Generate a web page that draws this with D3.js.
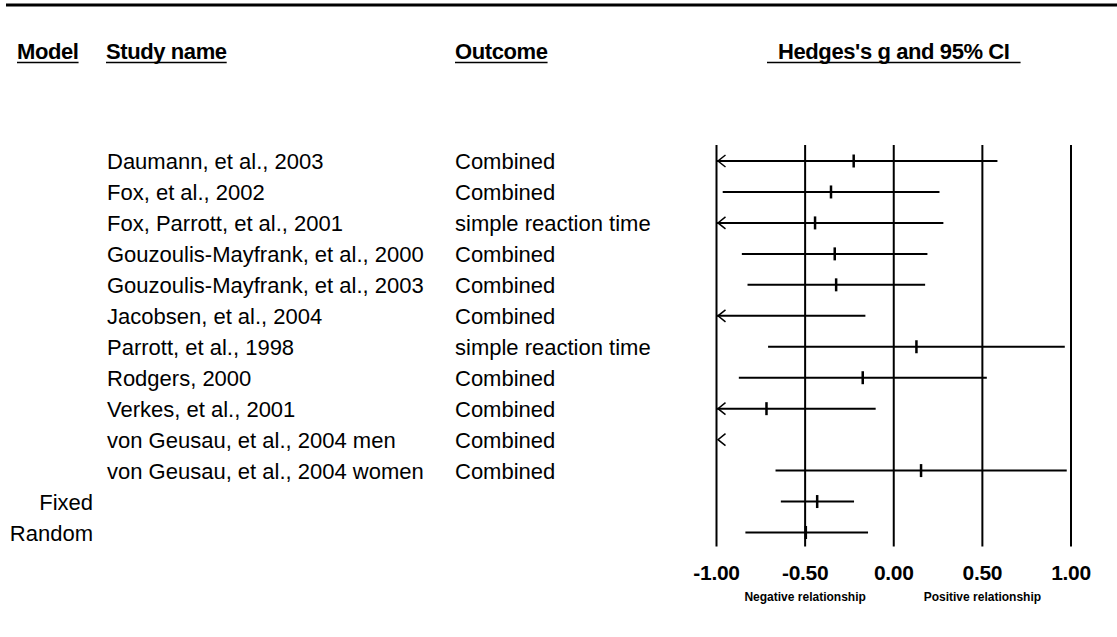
<!DOCTYPE html>
<html lang="en">

<head>
    <meta charset="UTF-8">
    <title>Forest plot</title>
    <script src="https://d3js.org/d3.v7.min.js"></script>
    <style>
        body,
        html {
            margin: 0px;
            background: white;
        }

        text {
            font-family: "Liberation Sans", Arial, sans-serif;
            fill: black;
        }
    </style>
</head>

<body>
    <div id="chart"></div>

    <script>
        // study rows
        var studies = [
            "Daumann, et al., 2003",
            "Fox, et al., 2002",
            "Fox, Parrott, et al., 2001",
            "Gouzoulis-Mayfrank, et al., 2000",
            "Gouzoulis-Mayfrank, et al., 2003",
            "Jacobsen, et al., 2004",
            "Parrott, et al., 1998",
            "Rodgers, 2000",
            "Verkes, et al., 2001",
            "von Geusau, et al., 2004 men",
            "von Geusau, et al., 2004 women"
        ];
        var outcomes = [
            "Combined", "Combined", "simple reaction time", "Combined", "Combined", "Combined",
            "simple reaction time", "Combined", "Combined", "Combined", "Combined"
        ];
        var hedgesG = [-0.226, -0.354, -0.444, -0.333, -0.325, -1.12, 0.128, -0.175, -0.718, -1.55, 0.154];
        var lowerCI = [-1.037, -0.965, -1.168, -0.857, -0.825, -2.08, -0.709, -0.874, -1.334, -2.08, -0.667];
        var upperCI = [0.585, 0.258, 0.280, 0.190, 0.177, -0.160, 0.965, 0.525, -0.102, -1.02, 0.976];

        // summary rows
        var models = ["Fixed", "Random"];
        var modelG = [-0.432, -0.496];
        var modelLower = [-0.637, -0.837];
        var modelUpper = [-0.224, -0.145];

        var tickValues = [-1, -0.5, 0, 0.5, 1];
        var sideLabels = [
            { v: -0.5, label: "Negative relationship" },
            { v: 0.5, label: "Positive relationship" }
        ];

        var width = 1117, height = 637;

        var svg = d3.select("#chart")
            .append("svg")
            .attr("width", width)
            .attr("height", height);

        var rows = studies.map((s, i) => ({
            model: "", name: s, outcome: outcomes[i],
            g: hedgesG[i], lo: lowerCI[i], hi: upperCI[i]
        })).concat(models.map((m, i) => ({
            model: m, name: "", outcome: "",
            g: modelG[i], lo: modelLower[i], hi: modelUpper[i]
        })));

        var x = d3.scaleLinear().domain([-1, 1]).range([716.5, 1071]);
        var y = d3.scalePoint()
            .domain(d3.range(rows.length))
            .range([161, 532.5]);

        // plain hyphen for negatives, like the original
        var fmt = d3.formatLocale({
            decimal: ".", thousands: ",", grouping: [3], currency: ["", ""], minus: "-"
        }).format(".2f");

        // thick rule at top
        svg.append("line")
            .attr("x1", 6).attr("x2", width)
            .attr("y1", 5).attr("y2", 5)
            .style("stroke", "black")
            .style("stroke-width", 3);

        // column headers
        var headers = [
            { x: 17, text: "Model", pad: 0 },
            { x: 106, text: "Study name", pad: 0 },
            { x: 455, text: "Outcome", pad: 0 },
            { x: 778, text: "Hedges's g and 95% CI", pad: 11 }
        ];
        headers.forEach(h => {
            var t = svg.append("text")
                .attr("x", h.x)
                .attr("y", 58.5)
                .style("font-size", "22px")
                .style("font-weight", "bold")
                .style("letter-spacing", "-0.4px")
                .text(h.text);
            var w = t.node().getComputedTextLength();
            svg.append("line")
                .attr("x1", h.x - h.pad).attr("x2", h.x + w + h.pad)
                .attr("y1", 62.5).attr("y2", 62.5)
                .style("stroke", "black")
                .style("stroke-width", 1.5);
        });

        // vertical grid lines at ticks
        var gridTop = y(0) - 16, gridBottom = y(rows.length - 1) + 14;
        svg.append("g")
            .selectAll("line")
            .data(tickValues)
            .enter().append("line")
            .attr("x1", d => x(d)).attr("x2", d => x(d))
            .attr("y1", gridTop).attr("y2", gridBottom)
            .style("stroke", "black")
            .style("stroke-width", 2);

        // tick labels
        svg.append("g")
            .selectAll("text")
            .data(tickValues)
            .enter().append("text")
            .attr("x", d => x(d))
            .attr("y", 580)
            .style("text-anchor", "middle")
            .style("font-size", "21px")
            .style("font-weight", "bold")
            .style("letter-spacing", "-0.3px")
            .text(d => fmt(d));

        svg.append("g")
            .selectAll("text")
            .data(sideLabels)
            .enter().append("text")
            .attr("x", d => x(d.v))
            .attr("y", 601)
            .style("text-anchor", "middle")
            .style("font-size", "12px")
            .style("font-weight", "bold")
            .text(d => d.label);

        // row texts
        var rowG = svg.append("g")
            .selectAll("g")
            .data(rows)
            .enter().append("g")
            .attr("transform", (d, i) => "translate(0," + y(i) + ")");

        rowG.append("text")
            .attr("x", 93).attr("y", 8)
            .style("text-anchor", "end")
            .style("font-size", "22px")
            .text(d => d.model);

        rowG.append("text")
            .attr("x", 107).attr("y", 8)
            .style("font-size", "22px")
            .text(d => d.name);

        rowG.append("text")
            .attr("x", 455).attr("y", 8)
            .style("font-size", "22px")
            .text(d => d.outcome);

        // CI lines, clipped to the axis range
        rowG.filter(d => d.hi >= -1)
            .append("line")
            .attr("x1", d => x(Math.max(d.lo, -1)))
            .attr("x2", d => x(Math.min(d.hi, 1)))
            .attr("y1", 0).attr("y2", 0)
            .style("stroke", "black")
            .style("stroke-width", 2);

        // point estimate ticks
        rowG.filter(d => d.g >= -1 && d.g <= 1)
            .append("line")
            .attr("x1", d => x(d.g)).attr("x2", d => x(d.g))
            .attr("y1", -6.5).attr("y2", 6.5)
            .style("stroke", "black")
            .style("stroke-width", 2.5);

        // arrows where the interval runs off the left edge
        var x0 = x(-1);
        rowG.filter(d => d.lo < -1)
            .append("path")
            .attr("d", "M" + (x0 + 9) + ",-6L" + (x0 + 1.5) + ",0L" + (x0 + 9) + ",6")
            .style("fill", "none")
            .style("stroke", "black")
            .style("stroke-width", 1.5);
    </script>
</body>

</html>
